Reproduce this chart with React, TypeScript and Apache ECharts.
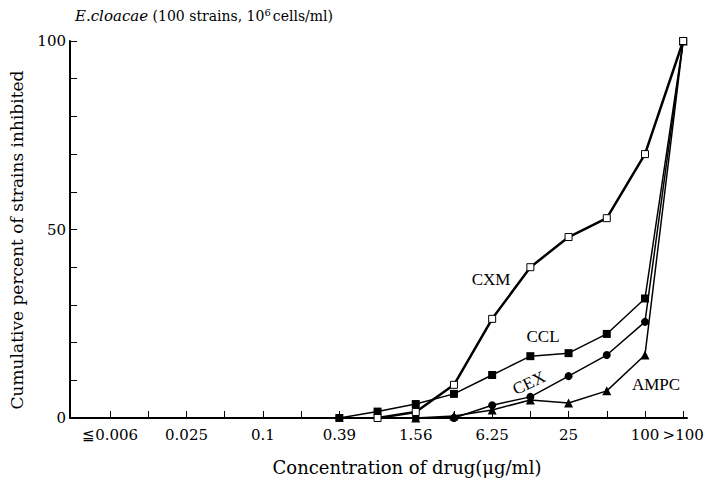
import React, { useEffect, useRef } from "react";
import * as echarts from "echarts";

// x positions are indices on a log2 concentration scale: 0 = ≦0.006 ... 14 = 100, 15 = >100
const tickLabels = ["≦0.006", "", "0.025", "", "0.1", "", "0.39", "", "1.56", "", "6.25", "", "25", "", "100", ">100"];
const labelIndices = [0, 2, 4, 6, 8, 10, 12, 14, 15];
const tickIndices = [0, 1, 2, 3, 4, 5, 6, 7, 8, 9, 10, 11, 12, 13, 14, 15];

const cxm = [[7, 0], [8, 1.6], [9, 8.8], [10, 26.3], [11, 40], [12, 48], [13, 53], [14, 70], [15, 100]];
const ccl = [[6, 0], [7, 1.7], [8, 3.7], [9, 6.4], [10, 11.4], [11, 16.4], [12, 17.2], [13, 22.3], [14, 31.7], [15, 100]];
const cex = [[6, 0], [7, 0], [8, 0], [9, 0], [10, 3.4], [11, 5.6], [12, 11.1], [13, 16.7], [14, 25.5], [15, 100]];
const ampc = [[8, 0], [9, 0.5], [10, 2.1], [11, 4.8], [12, 4], [13, 7.2], [14, 16.7], [15, 100]];

const DSERIF = "'DejaVu Serif', serif";
const SERIF = "'Liberation Serif', serif";

export default function App() {
  const ref = useRef<HTMLDivElement>(null);
  useEffect(() => {
    if (!ref.current) return;
    const chart = echarts.init(ref.current, null, { renderer: "svg" });
    const lineSeries = (name: string, data: number[][], symbol: string, size: number, fill: string, width: number) => ({
      name,
      type: "line",
      data,
      symbol,
      symbolSize: size,
      showSymbol: true,
      lineStyle: { color: "#000", width },
      itemStyle: { color: fill, borderColor: "#000", borderWidth: fill === "#fff" ? 1 : 0 },
      z: fill === "#fff" ? 5 : 3,
    });
    chart.setOption({
      animation: false,
      backgroundColor: "#fff",
      grid: { left: 70, top: 41, right: 27, bottom: 64 },
      xAxis: {
        type: "value",
        min: -1.05,
        max: 15.1,
        splitLine: { show: false },
        axisLine: { show: true, onZero: false, lineStyle: { color: "#000", width: 2 } },
        axisTick: { show: true, inside: true, length: 7, customValues: tickIndices, lineStyle: { color: "#000", width: 1 } },
        axisLabel: {
          customValues: labelIndices,
          formatter: (v: number) => tickLabels[Math.round(v)] ?? "",
          color: "#000",
          fontFamily: DSERIF,
          fontSize: 15,
          margin: 9,
        },
      },
      yAxis: {
        type: "value",
        min: 0,
        max: 100,
        interval: 10,
        splitLine: { show: false },
        axisLine: { show: true, onZero: false, lineStyle: { color: "#000", width: 2 } },
        axisTick: { show: true, inside: true, length: 7, lineStyle: { color: "#000", width: 1 } },
        axisLabel: {
          formatter: (v: number) => (v % 50 === 0 ? String(v) : ""),
          color: "#000",
          fontFamily: DSERIF,
          fontSize: 15,
          margin: 4,
        },
      },
      series: [
        lineSeries("AMPC", ampc, "triangle", 9, "#000", 1.5),
        lineSeries("CEX", cex, "circle", 8, "#000", 1.5),
        lineSeries("CCL", ccl, "rect", 8, "#000", 1.5),
        lineSeries("CXM", cxm, "rect", 7, "#fff", 2.5),
      ],
      graphic: [
        {
          type: "text",
          left: 75,
          top: 7,
          style: {
            text: "{i|E.cloacae} (100 strains, 10{sup|6}cells/ml)",
            fill: "#000",
            font: `14px ${DSERIF}`,
            rich: {
              i: { fontFamily: DSERIF, fontStyle: "italic", fontSize: 15, fill: "#000" },
              sup: { fontFamily: DSERIF, fontSize: 10, verticalAlign: "top", padding: [0, 2, 8, 0], fill: "#000" },
            },
          },
        },
        {
          type: "text",
          x: 17,
          y: 240,
          rotation: Math.PI / 2,
          style: {
            text: "Cumulative percent of strains inhibited",
            fill: "#000",
            font: `17px ${DSERIF}`,
            align: "center",
            verticalAlign: "middle",
          },
        },
        {
          type: "text",
          x: 407,
          y: 467,
          style: {
            text: "Concentration of drug(μg/ml)",
            fill: "#000",
            font: `18px ${DSERIF}`,
            align: "center",
            verticalAlign: "middle",
          },
        },
        { type: "text", x: 491, y: 279, style: { text: "CXM", fill: "#000", font: `17px ${SERIF}`, align: "center", verticalAlign: "middle" } },
        { type: "text", x: 543, y: 336, style: { text: "CCL", fill: "#000", font: `17px ${SERIF}`, align: "center", verticalAlign: "middle" } },
        { type: "text", x: 529, y: 383, rotation: 0.45, style: { text: "CEX", fill: "#000", font: `17px ${SERIF}`, align: "center", verticalAlign: "middle" } },
        { type: "text", x: 656, y: 384, style: { text: "AMPC", fill: "#000", font: `17px ${SERIF}`, align: "center", verticalAlign: "middle" } },
      ],
    });
    return () => chart.dispose();
  }, []);
  return <div ref={ref} style={{ width: 714, height: 482, position: "absolute", left: 0, top: 0 }} />;
}
